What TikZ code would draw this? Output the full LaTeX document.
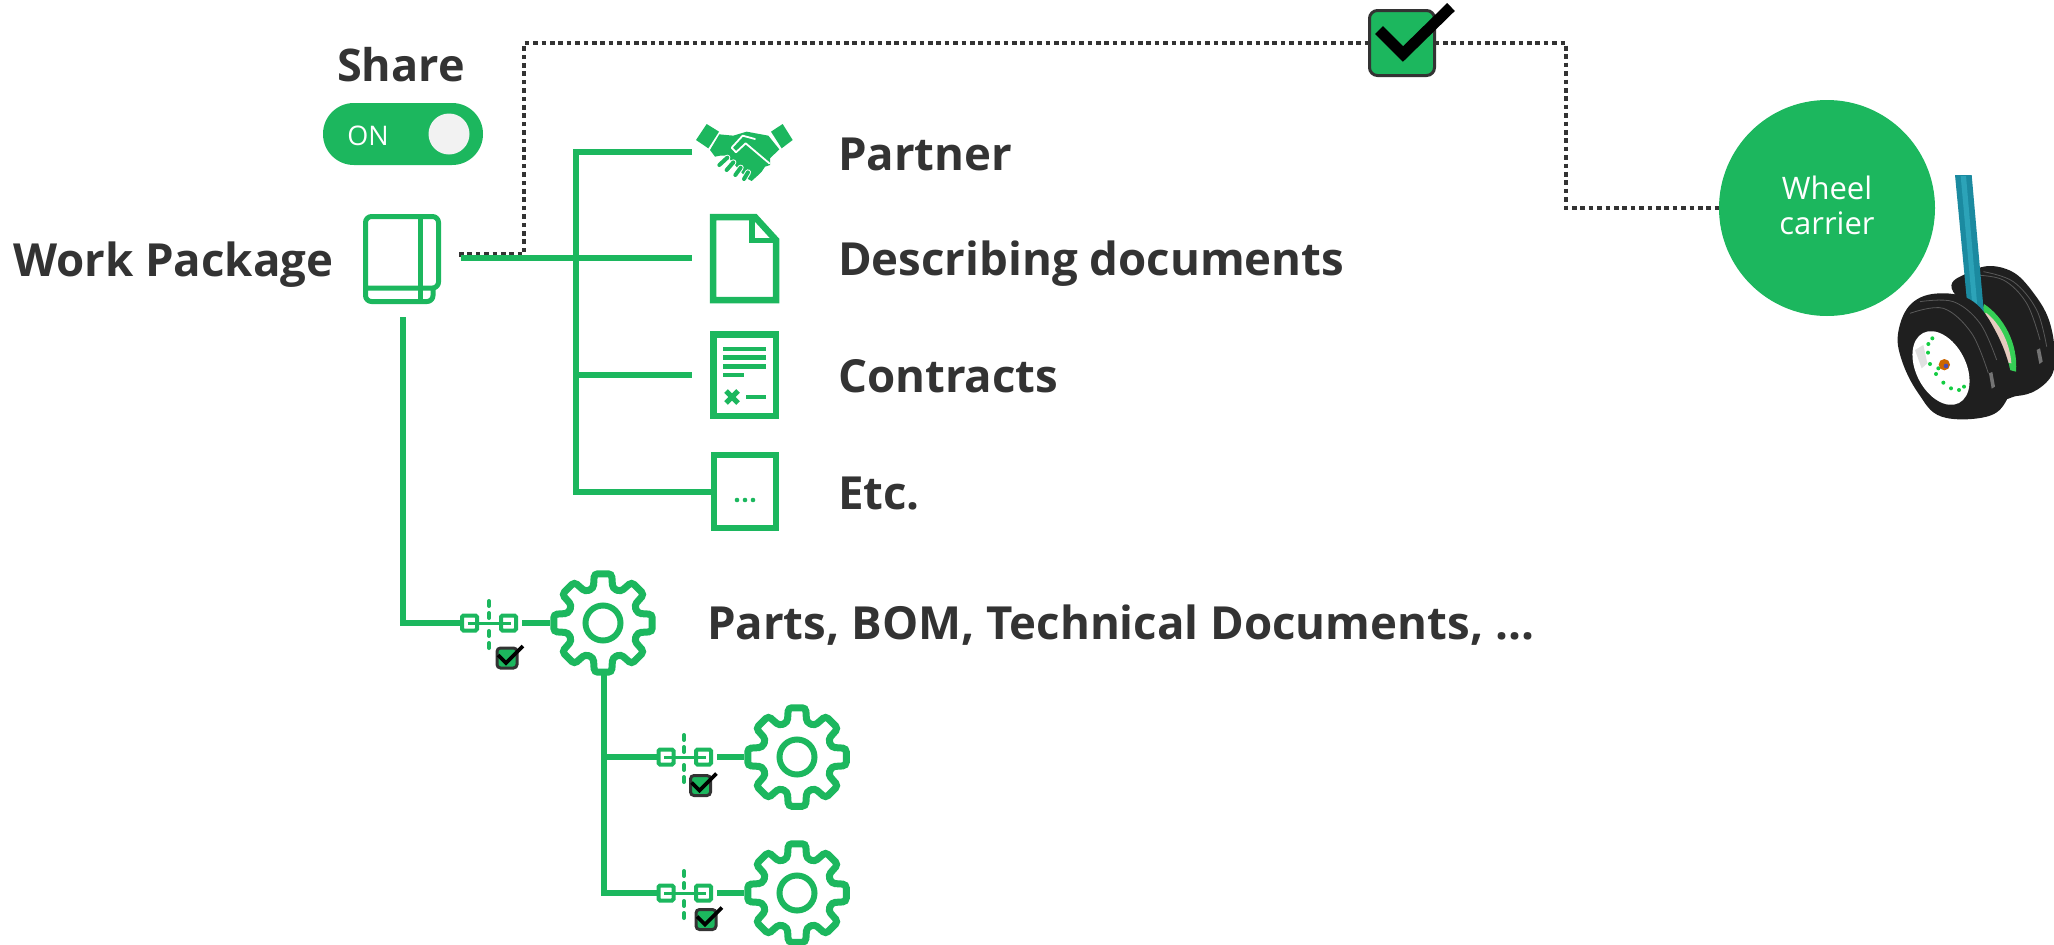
\documentclass[tikz,border=0pt]{standalone}
\usepackage{fontspec}
\setmainfont{Open Sans}
\definecolor{gr}{HTML}{1CB75E}
\definecolor{dk}{HTML}{333333}
\definecolor{strut}{HTML}{1B8AA0}
\definecolor{struthi}{HTML}{2CA3B8}
\definecolor{tyre}{HTML}{1F1F1F}
\definecolor{rimgreen}{HTML}{35CF55}
\definecolor{pinkish}{HTML}{E6CBBF}
\usetikzlibrary{calc}
\tikzset{
  x=1pt,y=-1pt,
  gline/.style={draw=gr,line width=6pt},
  icon/.style={draw=gr,line width=6pt,fill=none},
  dotline/.style={draw=dk,line width=4.6pt,dash pattern=on 4.6pt off 3.8pt},
  slot/.style={inner sep=0pt,outer sep=0pt,draw=none},
  lab/.style={anchor=base west,inner sep=0pt,outer sep=0pt,text=dk,font=\fontsize{45.6}{48}\selectfont\bfseries},
  linkbox/.style={draw=gr,line width=4pt,inner sep=0pt,outer sep=2pt,minimum width=15pt,minimum height=15pt,rounded corners=1.5pt},
  linkmid/.style={draw=gr,line width=3pt},
  okbox/.style={draw=dk,line width=3pt,fill=gr,rounded corners=3.5pt,inner sep=0pt,outer sep=0pt,minimum width=20pt,minimum height=20pt},
  okmark/.style={draw=black,line width=3.6pt,miter limit=10},
  gearpic/.pic={
    \draw[draw=gr,line width=7pt,rounded corners=3.5pt,fill=white] (-10:50)
      \foreach \a in {0,45,...,270}{ -- (\a+10:50) -- (\a+15.5:36) -- (\a+29.5:36) -- (\a+35:50) }
      -- (325:50) -- (330.5:36) -- (344.5:36) -- cycle;
    \draw[draw=gr,line width=6pt] (0,0) circle[radius=17.5];
  },
  smallok/.pic={
    \draw[okmark] (-9,-3) -- (-1,5) -- (16,-12);
  }
}
\begin{document}
\begin{tikzpicture}
\useasboundingbox (0,0) rectangle (2054,945);

% dotted share link
\node[okbox,minimum width=65pt,minimum height=65pt,rounded corners=8pt] (bigok) at (1402,43) {};
\node[circle,fill=gr,draw=none,inner sep=0pt,outer sep=0pt,minimum size=216pt] (wheel) at (1827,208) {};
\coordinate (dotstart) at (459,254.5);
\coordinate (dotup) at (524,254.5);
\coordinate (dotturn) at (1566,43);
\draw[dotline] (dotstart) -- (dotup) |- (bigok.west);
\draw[dotline] (bigok.east) -- (dotturn) |- (wheel.west);
\draw[draw=black,line width=11pt,miter limit=10] (1379,30) -- (1403,54) -- (1451,7);
\node[anchor=base,inner sep=0pt,text=white,font=\fontsize{31}{33}\selectfont] (w1) at (1827,199) {Wheel};
\node[anchor=base,inner sep=0pt,text=white,font=\fontsize{31}{33}\selectfont] (w2) at (1827,234) {carrier};

% wheel picture
\begin{scope}[shift={(1840,160)},scale=1/3]
  \fill[tyre] plot[smooth cycle,tension=.6] coordinates {(335,385) (380,340) (450,318) (525,340) (585,405) (625,475) (643,560) (638,640) (590,690) (530,708) (470,700) (420,500)};
  \draw[black!65,line width=.8pt] plot[smooth,tension=.6] coordinates {(430,335) (520,365) (590,450) (620,560)};
  \draw[black!65,line width=.8pt] plot[smooth,tension=.6] coordinates {(400,345) (490,360) (560,430) (600,540)};
  \fill[black!55] (590,570) -- (600,565) -- (608,605) -- (598,612) -- cycle;
  \fill[rimgreen] (432,432) .. controls (490,470) and (535,550) .. (528,635) -- (470,620) -- (420,480) -- cycle;
  \fill[pinkish] (438,458) .. controls (480,490) and (510,550) .. (514,610) -- (470,600) -- (420,480) -- cycle;
  \fill[strut] (345,45) -- (395,45) -- (432,462) -- (380,415) -- cycle;
  \fill[struthi] (362,48) -- (378,48) -- (412,440) -- (396,425) -- cycle;
  \fill[tyre] plot[smooth cycle,tension=.65] coordinates {(175,515) (215,430) (300,400) (400,425) (470,520) (512,640) (500,720) (440,770) (305,770) (235,700) (185,600)};
  \draw[black!65,line width=.8pt] plot[smooth,tension=.6] coordinates {(240,425) (340,425) (420,490) (470,600)};
  \draw[black!65,line width=.8pt] plot[smooth,tension=.6] coordinates {(210,460) (310,445) (395,520) (445,640)};
  \fill[black!55] (447,640) -- (457,636) -- (465,680) -- (455,686) -- cycle;
  \fill[white,rotate around={27:(303,624)}] (303,624) ellipse[x radius=75,y radius=118];
  \fill[black!12] (225,570) -- (250,555) -- (262,610) -- (245,625) -- cycle;
  \foreach \p in {(277,535),(265,552),(264,578),(270,612),(295,625),(288,642),(310,668),(333,685),(357,690),(372,680)}
    \fill[gr!70!green] \p circle[radius=6];
  \fill[orange!80!black] (313,614) circle[radius=17];
  \fill[gray!60!blue] (318,618) circle[radius=7];
\end{scope}

% share toggle
\node[anchor=base,inner sep=0pt,text=dk,font=\fontsize{45}{48}\selectfont\bfseries] (share) at (401,81) {Share};
\node[rectangle,fill=gr,draw=none,rounded corners=30.9pt,inner sep=0pt,minimum width=160pt,minimum height=62pt] (toggle) at (403,134) {};
\node[circle,fill=black!5,draw=none,inner sep=0pt,minimum size=41pt] (knob) at (449,134) {};
\node[anchor=base,inner sep=0pt,text=white,font=\fontsize{27}{29}\selectfont] (on) at (368,145) {ON};

% book
\node[slot,minimum width=78pt,minimum height=90pt] (book) at (402,259) {};
\begin{scope}[shift={(book.center)}]
  \draw[draw=gr,line width=5pt,rounded corners=6pt,line join=round] (-36.5,29) -- (36.5,29) -- (36.5,-42.5) -- (-36.5,-42.5) -- (-36.5,42.5) -- (31,42.5) -- (31,29);
  \draw[draw=gr,line width=5pt] (18,-42.5) -- (18,42.5);
\end{scope}

% icons
\node[slot,minimum width=102pt,minimum height=60pt] (partner) at (743,152) {};
\begin{scope}[shift={(690,115)},scale=1/3]
  \fill[gr] (18,75) -- (50,27) -- (87,50) -- (55,100) -- cycle;
  \fill[gr] (243,50) -- (278,27) -- (308,75) -- (275,100) -- cycle;
  \fill[gr] (88,58) -- (130,62) -- (170,50) -- (235,62) -- (268,103) -- (240,130) -- (240,150) -- (225,155) -- (215,170) -- (205,180) -- (185,198) -- (170,190) -- (110,122) -- (90,122) -- (75,125) -- (60,105) -- cycle;
  \draw[white,line width=1.8pt,line join=round,line cap=round] (195,72) -- (158,62) -- (125,98) -- (138,112) -- (167,85) -- (238,145);
  \foreach \xa/\ya/\xb/\yb in {88/150/112/128,110/165/130/142,136/180/152/158,162/192/174/172}{
    \draw[white,line width=6pt,line cap=round] (\xa,\ya) -- (\xb,\yb);
    \draw[gr,line width=4pt,line cap=round] (\xa,\ya) -- (\xb,\yb);
  }
\end{scope}

\node[slot,minimum width=106pt,minimum height=90pt] (doc) at (745,258) {};
\begin{scope}[shift={(690,115)}]
  \draw[icon,line width=6.5pt,miter limit=2] (23,102) -- (65,102) -- (86,125) -- (86,185) -- (23,185) -- cycle;
  \draw[icon,line width=5.5pt] (62,100) -- (62,125.5) -- (88,125.5);
\end{scope}

\node[slot,minimum width=106pt,minimum height=88pt] (contract) at (745,375) {};
\draw[icon,line width=6.5pt] (713.25,334.25) rectangle (775.75,415.75);
\draw[gr,line width=4.2pt] (723,349) -- (766,349) (723,357.5) -- (766,357.5) (723,366.5) -- (766,366.5) (723,375) -- (744,375) (746,397) -- (766,397);
\draw[gr,line width=5pt] (726,391) -- (738,403) (726,403) -- (738,391);

\node[draw=gr,line width=6pt,inner sep=0pt,outer sep=3pt,minimum width=62pt,minimum height=73pt] (etcbox) at (745,491.5) {};
\foreach \x in {737,745,753} \fill[gr] (\x,500) circle[radius=2.3];

% bus
\coordinate (trunk) at (461,258);
\coordinate (bus) at (576,375);
\draw[gline,miter limit=2] (partner.west) -| (bus) |- (etcbox.west);
\draw[gline] (trunk) -- (doc.west);
\draw[gline] (bus) -- (contract.west);

% labels
\node[lab] (lwp) at (13,276) {Work Package};
\node[lab] (lp) at (838,170) {Partner};
\node[lab] (ld) at (838,275) {Describing documents};
\node[lab] (lc) at (838,392) {Contracts};
\node[lab] (le) at (838,509) {Etc.};
\node[lab] (lb) at (707,639) {Parts, BOM, Technical Documents, ...};

% gears
\node[slot,minimum size=106pt] (g1) at (603,623) {};
\node[slot,minimum size=106pt] (g2) at (797,757) {};
\node[slot,minimum size=106pt] (g3) at (797,893) {};
\coordinate (bookdrop) at (403,317);
\coordinate (gdrop) at (604,675);
\coordinate (j2) at (604,757);
\coordinate (j3) at (604,893);

% links
\node[linkbox] (a1) at (469.5,623) {};
\node[linkbox] (b1) at (508.5,623) {};
\node[linkbox] (a2) at (666,757) {};
\node[linkbox] (b2) at (703.5,757) {};
\node[linkbox] (a3) at (666,893) {};
\node[linkbox] (b3) at (703.5,893) {};

\draw[gline,miter limit=2] (bookdrop) |- (a1.west);
\draw[gline] (gdrop) -- (j3) -- (a3.west);
\draw[gline] (j2) -- (a2.west);
\coordinate (s1) at (522,623);
\coordinate (s2) at (717,757);
\coordinate (s3) at (717,893);
\draw[gline] (s1) -- (g1.west);
\draw[gline] (s2) -- (g2.west);
\draw[gline] (s3) -- (g3.west);

\pic at (g1) {gearpic};
\pic at (g2) {gearpic};
\pic at (g3) {gearpic};

\foreach \u/\v/\x/\y in {a1/b1/489/623,a2/b2/684/757,a3/b3/684/893}{
  \draw[linkmid] ($(\u)+(-2,0)$) -- ($(\v)+(2,0)$);
  \draw[gr,line width=4pt,line cap=round] (\x,\y-22) -- (\x,\y-17) (\x,\y-10) -- (\x,\y-5) (\x,\y+8) -- (\x,\y+13) (\x,\y+20) -- (\x,\y+25);
}

% small checks
\node[okbox] (c1) at (507,658) {};
\node[okbox] (c2) at (700.5,785.5) {};
\node[okbox] (c3) at (706,919.5) {};
\pic at (c1) {smallok};
\pic at (c2) {smallok};
\pic at (c3) {smallok};
\end{tikzpicture}
\end{document}
